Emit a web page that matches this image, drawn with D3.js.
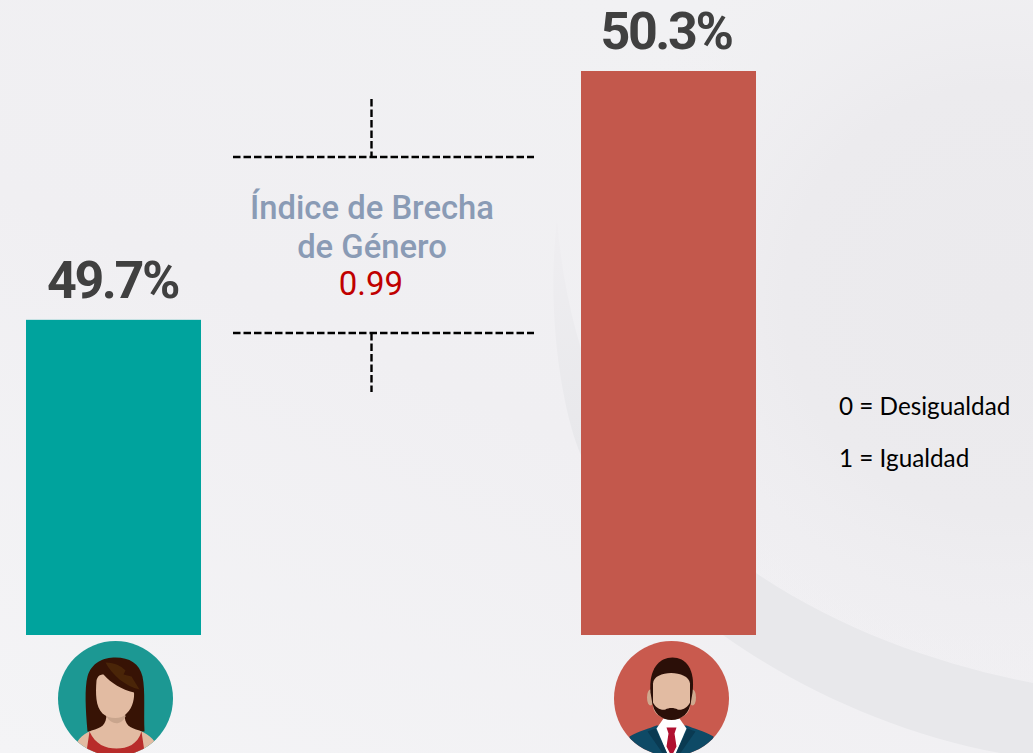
<!DOCTYPE html>
<html lang="en">
<head>
<meta charset="utf-8">
<style>
  html, body { margin: 0; padding: 0; background: #f2f1f4; }
  svg { display: block; }
</style>
</head>
<body>
<svg width="1033" height="753"></svg>
<script src="https://d3js.org/d3.v7.min.js"></script>
<script>
var categories = ["Mujeres", "Hombres"];
var values = [49.7, 50.3];
var valueLabels = ["49.7%", "50.3%"];
var barColors = ["#00a39d", "#c3584c"];
var indexTitle = ["Índice de Brecha", "de Género"];
var indexValue = "0.99";
var scaleNotes = ["0 = Desigualdad", "1 = Igualdad"];

var svg = d3.select("svg");
var defs = svg.append("defs");

// background: soft grey gradients plus the swoosh band
var bgGrad = defs.append("linearGradient").attr("id", "bg-grad")
    .attr("x1", 0).attr("y1", 1).attr("x2", 0.6).attr("y2", 0);
bgGrad.append("stop").attr("offset", "0%").attr("stop-color", "#f4f4f6");
bgGrad.append("stop").attr("offset", "55%").attr("stop-color", "#f0eff2");
bgGrad.append("stop").attr("offset", "100%").attr("stop-color", "#f1f1f3");

var glow = defs.append("radialGradient").attr("id", "glow")
    .attr("gradientUnits", "userSpaceOnUse")
    .attr("cx", 1000).attr("cy", 300).attr("r", 430);
glow.append("stop").attr("offset", "0%").attr("stop-color", "#ebeaed").attr("stop-opacity", 1);
glow.append("stop").attr("offset", "50%").attr("stop-color", "#ecebee").attr("stop-opacity", 1);
glow.append("stop").attr("offset", "100%").attr("stop-color", "#f1f0f3").attr("stop-opacity", 0);

var bandGrad = defs.append("linearGradient").attr("id", "band-grad")
    .attr("gradientUnits", "userSpaceOnUse")
    .attr("x1", 556).attr("y1", 222).attr("x2", 580).attr("y2", 450);
bandGrad.append("stop").attr("offset", "0%").attr("stop-color", "#efeef1");
bandGrad.append("stop").attr("offset", "100%").attr("stop-color", "#e8e8eb");

svg.append("rect").attr("width", 1033).attr("height", 753).attr("fill", "url(#bg-grad)");
svg.append("path")
    .attr("d", "M557,222C566,400 650,520 756,573C840,630 940,665 1033,683L1033,0L560,0Z")
    .attr("fill", "url(#glow)");
svg.append("path")
    .attr("d", "M557,220C545,320 565,420 581,455C620,540 670,600 723,635C800,690 900,735 1000,753L1033,753L1033,683C940,665 840,630 756,573C650,520 572,400 557,220Z")
    .attr("fill", "url(#band-grad)");

// the bars do not start at zero in the original, the base sits near 48.94
var y = d3.scaleLinear().domain([48.94, 50.3]).range([635, 71]);
var barWidth = 175;

function barX(d) {
    return d === categories[0] ? 26 : 581;
}

svg.selectAll(".bar")
    .data(categories)
    .enter()
    .append("rect")
    .attr("class", "bar")
    .attr("x", barX)
    .attr("y", function (d, i) { return y(values[i]); })
    .attr("width", barWidth)
    .attr("height", function (d, i) { return y.range()[0] - y(values[i]); })
    .attr("fill", function (d, i) { return barColors[i]; });

svg.selectAll(".bar-label")
    .data(categories)
    .enter()
    .append("text")
    .attr("class", "bar-label")
    .attr("x", function (d) { return barX(d) + barWidth / 2 + (d === categories[0] ? -1 : -2.5); })
    .attr("y", function (d, i) { return y(values[i]) - 22; })
    .attr("text-anchor", "middle")
    .attr("font-family", "Roboto, sans-serif")
    .attr("font-weight", 700)
    .attr("font-size", 52)
    .attr("letter-spacing", -2.4)
    .attr("fill", "#404040")
    .text(function (d, i) { return valueLabels[i]; });

// bracket lines around the index
var dash = "7.5,3";
function dashed(x1, y1, x2, y2) {
    svg.append("line")
        .attr("x1", x1).attr("y1", y1).attr("x2", x2).attr("y2", y2)
        .attr("stroke", "#000")
        .attr("stroke-width", 2.4)
        .attr("stroke-dasharray", dash);
}
dashed(233, 157, 534, 157);
dashed(371.5, 99, 371.5, 157);
dashed(233, 333, 534, 333);
dashed(371.5, 333, 371.5, 392);

svg.selectAll(".index-title")
    .data(indexTitle)
    .enter()
    .append("text")
    .attr("class", "index-title")
    .attr("x", 372)
    .attr("y", function (d, i) { return 219 + i * 39; })
    .attr("text-anchor", "middle")
    .attr("font-family", "Roboto, sans-serif")
    .attr("font-weight", 500)
    .attr("font-size", 32.8)
    .attr("fill", "#8a9bb5")
    .text(function (d) { return d; });

svg.append("text")
    .attr("x", 371)
    .attr("y", 295)
    .attr("text-anchor", "middle")
    .attr("font-family", "Roboto, sans-serif")
    .attr("font-weight", 400)
    .attr("font-size", 33)
    .attr("fill", "#c00000")
    .text(indexValue);

svg.selectAll(".note")
    .data(scaleNotes)
    .enter()
    .append("text")
    .attr("class", "note")
    .attr("x", 839)
    .attr("y", function (d, i) { return 414.5 + i * 52; })
    .attr("font-family", "Lato, sans-serif")
    .attr("font-size", 24.3)
    .attr("fill", "#000")
    .text(function (d) { return d; });

// avatars
defs.append("clipPath").attr("id", "clip-w").append("circle").attr("r", 57.5);
defs.append("clipPath").attr("id", "clip-m").append("circle").attr("r", 57.5);

var w = svg.append("g").attr("transform", "translate(115.5,698.5)");
w.append("circle").attr("r", 57.5).attr("fill", "#1c9893");
var wc = w.append("g").attr("clip-path", "url(#clip-w)");
wc.append("path").attr("fill", "#371305")
    .attr("d", "M-28,33C-30,10 -31,-10 -28,-22C-24,-36 -12,-41 0,-41C14,-41 24,-35 27,-22C30,-8 28,15 29,33Z");
wc.append("path").attr("fill", "#e2bba2")
    .attr("d", "M-42,60C-42,45 -36,37 -24,32C-14,29 -9,27 -9,15L9,15C9,27 14,29 24,32C36,37 44,45 44,60Z");
wc.append("path").attr("fill", "#b82c2a")
    .attr("d", "M-26,33C-20,46 -10,50 1,50C12,50 22,46 26,33L30,60L-30,60Z");
wc.append("path").attr("fill", "#c9a58d")
    .attr("d", "M-9,18C-4,27 6,27 10,18L9,12L-9,12Z");
wc.append("path").attr("fill", "#e2bba2")
    .attr("d", "M-19,-18C-20,-5 -20,8 -13,15C-6,21 6,21 11,15C18,9 19,-2 18.5,-6C6,-9 -4,-15 -12,-24C-16,-24 -18,-22 -19,-18Z");
wc.append("path").attr("fill", "#4a2508")
    .attr("d", "M-10,-36C0,-36 6,-32 10,-28L8,-24L16,-22L24,-9C10,-12 -4,-24 -10,-36Z");

var m = svg.append("g").attr("transform", "translate(671.5,698.5)");
m.append("circle").attr("r", 57.5).attr("fill", "#c95a4e");
var mc = m.append("g").attr("clip-path", "url(#clip-m)");
mc.append("path").attr("fill", "#0e4a66")
    .attr("d", "M-42,38C-32,32 -22,30 -15,27L15,27C22,30 32,32 42,38L42,60L-42,60Z");
mc.append("path").attr("fill", "#ffffff")
    .attr("d", "M-15,30L-8,20L8,20L15,30L3,58L-3,58Z");
mc.append("path").attr("fill", "#0a3a52")
    .attr("d", "M-16,30L-24,33L-8,56L-3,58ZM16,30L24,33L8,56L3,58Z");
mc.append("path").attr("fill", "#b01030")
    .attr("d", "M-5,29L5,29L3,35L5,48L0,58L-5,48L-3,35Z");
mc.append("ellipse").attr("cx", -21).attr("cy", -1).attr("rx", 3.5).attr("ry", 8).attr("fill", "#cfa88e");
mc.append("ellipse").attr("cx", 21).attr("cy", -1).attr("rx", 3.5).attr("ry", 8).attr("fill", "#cfa88e");
mc.append("path").attr("fill", "#2b0f08")
    .attr("d", "M-21,-6C-23,-30 -12,-41 1,-41C14,-41 24,-30 21,-6L19,6L-19,6Z");
mc.append("path").attr("fill", "#e2bba2")
    .attr("d", "M-18.5,-15C-18,-29 17,-29 18.5,-15L18.5,8C18,16 8,21 0,21C-8,21 -18,16 -18.5,8Z");
mc.append("path").attr("fill", "#2b0f08")
    .attr("d", "M-19,3C-16,10 -10,12 -6,11C-3,9 3,9 6,11C10,12 16,10 19,3C19,14 10,21.5 0,21.5C-10,21.5 -19,14 -19,3Z");
</script>
</body>
</html>
